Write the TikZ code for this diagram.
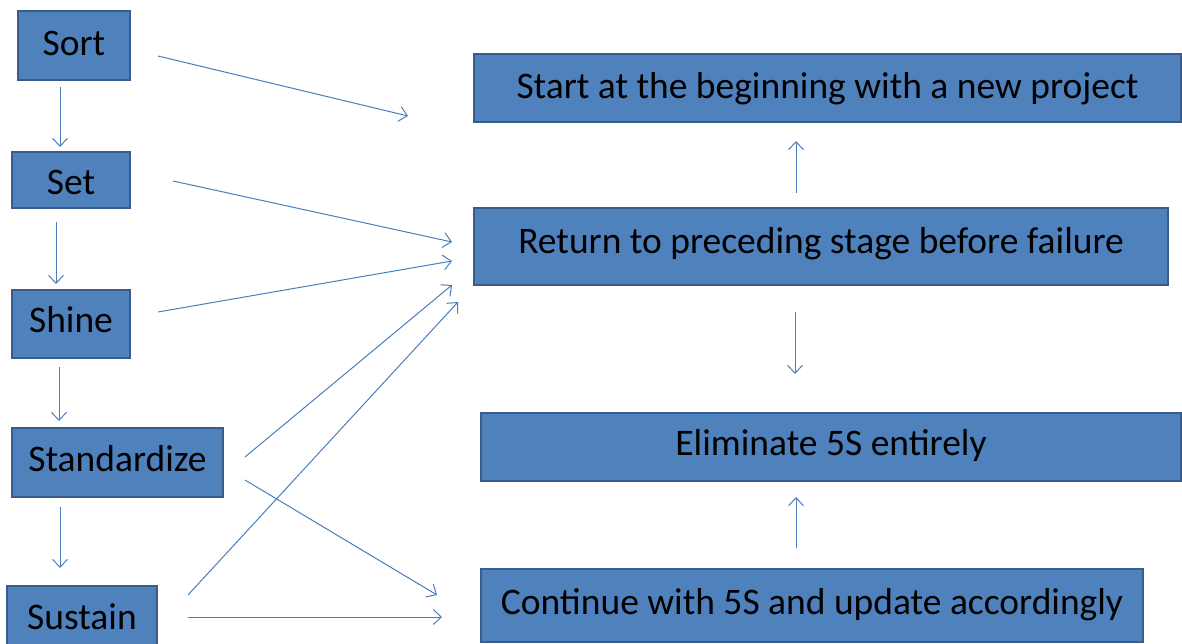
\documentclass[tikz,border=0pt]{standalone}
\usepackage{fontspec}
\setmainfont{Carlito}
\usetikzlibrary{arrows.meta}
\definecolor{boxfill}{HTML}{4F81BD}
\definecolor{boxline}{HTML}{385D8A}
\definecolor{arr}{HTML}{4A7EBB}
\tikzset{
  box/.style={draw=boxline, fill=boxfill, line width=2.2pt, inner sep=0pt, text height=24pt, text depth=7pt, font=\fontsize{37.5}{44}\selectfont, text=black},
  conn/.style={draw=arr, line width=1pt, -{Straight Barb[length=8pt,width=15pt,line width=1pt]}}
}
\begin{document}
\begin{tikzpicture}[x=1pt,y=-1pt]
\useasboundingbox (0,0) rectangle (1182,644);
\node[box, text height=28pt, minimum width=112, minimum height=69] (sort) at (74,45.5) {Sort};
\node[box, text height=36pt, minimum width=118, minimum height=56] (set) at (71,180) {Set};
\node[box, minimum width=118, minimum height=68] (shine) at (71,324) {Shine};
\node[box, minimum width=211, minimum height=69] (std) at (117.5,462.5) {Standardize};
\node[box, text height=32pt, minimum width=150, minimum height=62] (sus) at (82,617) {Sustain};
\node[box, text height=28pt, minimum width=707, minimum height=68] (start) at (827.5,88) {Start at the beginning with a new project};
\node[box, text depth=11pt, minimum width=694, minimum height=77] (ret) at (821,246.5) {Return to preceding stage before failure};
\node[box, minimum width=700, minimum height=68] (elim) at (831,447) {Eliminate 5S entirely};
\node[box, minimum width=662, minimum height=73] (cont) at (812,605.5) {Continue with 5S and update accordingly};
% free ends
\coordinate (a1s) at (158,56);   \coordinate (a1e) at (408,116);
\coordinate (v1s) at (60,87);    \coordinate (v1e) at (60,147);
\coordinate (a2s) at (173,181);  \coordinate (a2e) at (452,242);
\coordinate (v2s) at (56,222);   \coordinate (v2e) at (56,284);
\coordinate (a3s) at (158,312);  \coordinate (a3e) at (452,261);
\coordinate (v3s) at (59,367);   \coordinate (v3e) at (59,421);
\coordinate (a4s) at (245,457);  \coordinate (a4e) at (452,285);
\coordinate (a5s) at (245,480);  \coordinate (a5e) at (437,595);
\coordinate (v4s) at (60,507);   \coordinate (v4e) at (60,568);
\coordinate (a6s) at (188,595);  \coordinate (a6e) at (458,302);
\coordinate (a7s) at (188,617);  \coordinate (a7e) at (442,617);
\coordinate (u1s) at (796,193);  \coordinate (u1e) at (796,141);
\coordinate (d1s) at (795,312);  \coordinate (d1e) at (795,374);
\coordinate (u2s) at (796,548);  \coordinate (u2e) at (796,497);
\foreach \p in {a1,v1,a2,v2,a3,v3,a4,a5,v4,a6,a7,u1,d1,u2}
  \draw[conn] (\p s) -- (\p e);
\end{tikzpicture}
\end{document}
